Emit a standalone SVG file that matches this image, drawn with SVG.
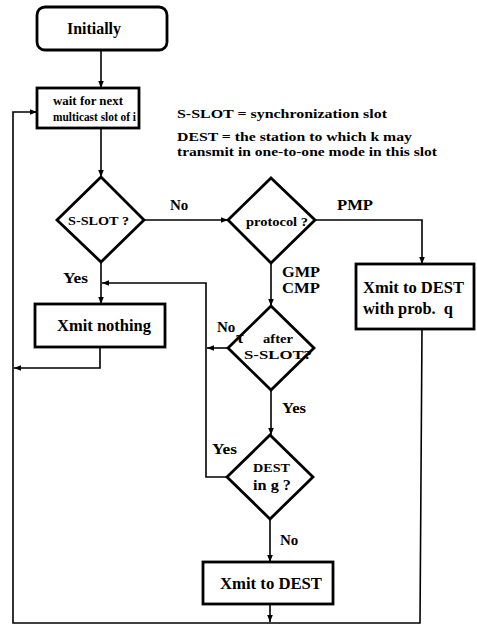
<svg xmlns="http://www.w3.org/2000/svg" width="477" height="627" viewBox="0 0 477 627">
<defs>
<style>
.box{fill:#fff;stroke:#000;stroke-width:2.8}
.ln{fill:none;stroke:#000;stroke-width:1.6}
text{font-family:"Liberation Serif","Times New Roman",serif;font-weight:bold;fill:#000}
.c{text-anchor:middle}
</style>
<marker id="ah" viewBox="0 0 10 10" refX="10" refY="5" markerWidth="7" markerHeight="7" orient="auto" markerUnits="userSpaceOnUse">
<path d="M0,1 L10,5 L0,9 z" fill="#000"/>
</marker>
</defs>
<rect width="477" height="627" fill="#fff"/>
<g id="connectors">
<path class="ln" d="M101,50 V88" marker-end="url(#ah)"/>
<path class="ln" d="M101,128 V177" marker-end="url(#ah)"/>
<path class="ln" d="M144,220 H228" marker-end="url(#ah)"/>
<path class="ln" d="M315,220 H422 V264" marker-end="url(#ah)"/>
<path class="ln" d="M101,262 V304" marker-end="url(#ah)"/>
<path class="ln" d="M271,263 V306" marker-end="url(#ah)"/>
<path class="ln" d="M228,348 H207" marker-end="url(#ah)"/>
<path class="ln" d="M271,390 V435" marker-end="url(#ah)"/>
<path class="ln" d="M227,477 H206 V283 H102" marker-end="url(#ah)"/>
<path class="ln" d="M270,519 V562" marker-end="url(#ah)"/>
<path class="ln" d="M270,604 V622" marker-end="url(#ah)"/>
<path class="ln" d="M422,329 L420,623 H13 V112 H37" marker-end="url(#ah)"/>
<path class="ln" d="M100,347 V368 H14" marker-end="url(#ah)"/>
</g>
<g id="initially">
<rect class="box" x="37" y="7" width="130" height="43" rx="8"/>
<text x="67" y="34" font-size="16" textLength="54" lengthAdjust="spacingAndGlyphs">Initially</text>
</g>
<g id="wait">
<rect class="box" x="37" y="88" width="102" height="40"/>
<text x="53" y="105" font-size="12.5" textLength="70" lengthAdjust="spacingAndGlyphs">wait for next</text>
<text x="53" y="121" font-size="12.5" textLength="83" lengthAdjust="spacingAndGlyphs">multicast slot of i</text>
</g>
<g id="legend">
<text x="177" y="118" font-size="13" textLength="210" lengthAdjust="spacingAndGlyphs">S-SLOT = synchronization slot</text>
<text x="177" y="141" font-size="13" textLength="235" lengthAdjust="spacingAndGlyphs">DEST = the station to which k may</text>
<text x="177" y="156" font-size="13" textLength="260" lengthAdjust="spacingAndGlyphs">transmit in one-to-one mode in this slot</text>
</g>
<g id="sslot">
<polygon class="box" points="101,177 144,220 101,262 57,220"/>
<text x="68" y="225" font-size="13" textLength="61" lengthAdjust="spacingAndGlyphs">S-SLOT ?</text>
</g>
<g id="protocol">
<polygon class="box" points="271,178 315,220 271,263 228,220"/>
<text x="246" y="226" font-size="12" textLength="62" lengthAdjust="spacingAndGlyphs">protocol ?</text>
</g>
<g id="xmitprob">
<rect class="box" x="356" y="264" width="118" height="65"/>
<text x="363" y="293" font-size="16" textLength="101" lengthAdjust="spacingAndGlyphs">Xmit to DEST</text>
<text x="363" y="314" font-size="16" textLength="90" lengthAdjust="spacingAndGlyphs" xml:space="preserve">with prob.  q</text>
</g>
<g id="xmitnothing">
<rect class="box" x="35" y="304" width="130" height="43"/>
<text x="57" y="331" font-size="16" textLength="94" lengthAdjust="spacingAndGlyphs">Xmit nothing</text>
</g>
<g id="tau">
<polygon class="box" points="271,306 314,348 271,390 228,348"/>
<text x="236" y="343" font-size="17" font-weight="normal">τ</text>
<text x="263" y="343" font-size="13.5" textLength="30" lengthAdjust="spacingAndGlyphs">after</text>
<text x="244" y="359" font-size="13.5" textLength="68" lengthAdjust="spacingAndGlyphs">S-SLOT?</text>
</g>
<g id="destg">
<polygon class="box" points="270,435 313,477 270,519 227,477"/>
<text x="253" y="472" font-size="12" textLength="37" lengthAdjust="spacingAndGlyphs">DEST</text>
<text x="253" y="490" font-size="14.5" textLength="38" lengthAdjust="spacingAndGlyphs">in g ?</text>
</g>
<g id="xmitdest">
<rect class="box" x="203" y="562" width="130" height="42"/>
<text x="220" y="589" font-size="16" textLength="102" lengthAdjust="spacingAndGlyphs">Xmit to DEST</text>
</g>
<g id="labels">
<text x="170" y="210" font-size="15">No</text>
<text x="337" y="210" font-size="15" textLength="36" lengthAdjust="spacingAndGlyphs">PMP</text>
<text x="63" y="283" font-size="15" textLength="25" lengthAdjust="spacingAndGlyphs">Yes</text>
<text x="282" y="277" font-size="15" textLength="38" lengthAdjust="spacingAndGlyphs">GMP</text>
<text x="282" y="293" font-size="15" textLength="38" lengthAdjust="spacingAndGlyphs">CMP</text>
<text x="217" y="332" font-size="15">No</text>
<text x="282" y="413" font-size="15" textLength="24" lengthAdjust="spacingAndGlyphs">Yes</text>
<text x="212" y="454" font-size="15" textLength="25" lengthAdjust="spacingAndGlyphs">Yes</text>
<text x="280" y="545" font-size="15">No</text>
</g>
</svg>
